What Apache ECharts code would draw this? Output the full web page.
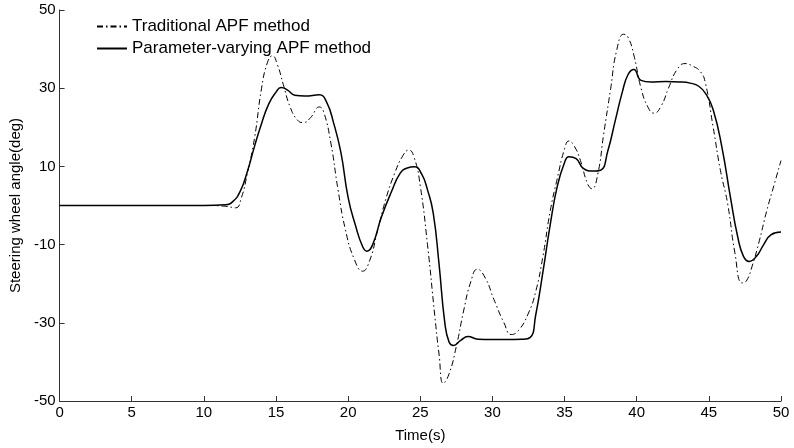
<!DOCTYPE html>
<html>
<head>
<meta charset="utf-8">
<script src="https://cdn.jsdelivr.net/npm/echarts@6/dist/echarts.min.js"></script>
<style>
  html, body { margin: 0; padding: 0; background: #fff; }
  #chart { width: 794px; height: 448px; }
</style>
</head>
<body>
<div id="chart"></div>
<script>
// values (time in s, angle in deg)
const tradTime = [0, 5, 10, 11.5, 12.2, 12.6, 13, 13.5, 14, 14.4, 14.75, 15.1, 15.5, 16, 16.5, 16.9, 17.4, 18, 18.3, 18.8, 19.3, 19.8, 20.4, 21, 21.5, 22, 22.6, 23.2, 23.8, 24.2, 24.6, 25, 25.5, 26, 26.3, 26.6, 27, 27.5, 28, 28.5, 28.95, 29.5, 30.1, 30.8, 31.3, 31.8, 32.5, 33, 33.5, 34, 34.5, 35, 35.3, 35.7, 36.1, 36.6, 36.9, 37.3, 37.7, 38.2, 38.6, 39.1, 39.4, 39.8, 40.3, 40.8, 41.2, 41.7, 42.2, 42.8, 43.35, 43.9, 44.4, 44.75, 45.3, 45.8, 46.3, 46.8, 47.3, 47.6, 48, 48.5, 49, 49.5, 50];
const tradAngle = [0, 0, 0, -0.2, -0.6, 2, 8, 17, 30, 36.5, 38.3, 36, 31, 25, 21.8, 21.2, 22.5, 25.2, 24, 16, 4, -6, -13.5, -16.8, -14, -7, 1.5, 8, 12.8, 14.2, 12, 5, -10, -28, -38, -45.5, -43, -36, -27, -19.5, -16.3, -18.5, -24, -30, -33, -32, -27.5, -22, -13, -1.5, 7, 14.5, 16.5, 15, 11.5, 5.5, 4.3, 8, 18, 30, 39.5, 43.8, 43, 38.5, 30, 25, 23.6, 25.5, 30, 34.8, 36.3, 35.6, 34.3, 31.5, 20, 9, 0.5, -12, -19.8, -19.3, -15.5, -9, -1.5, 5, 11.5];

const paramTime = [0, 5, 10, 11.5, 12, 12.5, 13, 13.5, 14, 14.5, 15, 15.35, 15.8, 16.3, 17, 18, 18.5, 19, 19.5, 20, 20.5, 21, 21.3, 21.7, 22.3, 23, 23.6, 24.1, 24.6, 25.1, 25.5, 25.9, 26.3, 26.7, 27, 27.3, 27.8, 28.3, 29, 30, 31, 32, 32.6, 33, 33.5, 34, 34.5, 35, 35.3, 35.8, 36.3, 37, 37.5, 38, 38.5, 39, 39.4, 39.8, 40.3, 41, 42, 43, 43.7, 44.3, 44.8, 45.3, 45.9, 46.5, 47, 47.4, 47.8, 48.3, 48.8, 49.3, 50];
const paramAngle = [0, 0, 0, 0.2, 1, 3.5, 8.5, 15, 21, 26, 29, 30.2, 29.5, 28.2, 28, 28.3, 26.5, 21, 13.5, 2, -5, -10.5, -11.7, -10, -3, 3.5, 8.2, 9.6, 9.9, 8, 4, -2, -15, -30, -35, -35.8, -34.5, -33.5, -34.2, -34.3, -34.3, -34.2, -33.8, -28, -17, -5, 5, 11, 12.5, 12, 9.5, 8.8, 9, 14, 21.5, 29, 33.5, 34.8, 32, 31.6, 31.7, 31.6, 31.3, 30.5, 28.5, 24.5, 15, 2, -8, -13, -14.3, -13, -10, -7.5, -6.8];

const xTicks = [0, 5, 10, 15, 20, 25, 30, 35, 40, 45, 50];
const yTicks = [-50, -30, -10, 10, 30, 50];

const seriesNames = ['Traditional APF method', 'Parameter-varying APF method'];

const chart = echarts.init(document.getElementById('chart'));

const pair = (xs, ys) => xs.map((x, i) => [x, ys[i]]);
const font = '"Liberation Sans", Arial, sans-serif';

const option = {
    animation: false,
    backgroundColor: '#fff',
    textStyle: { fontFamily: font },
    grid: { left: 58, right: 13, top: 10, bottom: 44 },
    legend: {
        orient: 'vertical',
        left: 91,
        top: 13,
        itemWidth: 30,
        itemHeight: 14,
        itemGap: 5,
        data: seriesNames,
        itemStyle: { opacity: 0 },
        textStyle: { fontSize: 17, color: '#000', fontFamily: font }
    },
    xAxis: {
        type: 'value',
        min: xTicks[0],
        max: xTicks[xTicks.length - 1],
        interval: 5,
        name: 'Time(s)',
        nameLocation: 'middle',
        nameGap: 27,
        nameTextStyle: { fontSize: 15, color: '#000' },
        axisLine: { onZero: false, lineStyle: { color: '#333', width: 1 } },
        axisTick: { inside: true, length: 5, lineStyle: { color: '#333' } },
        axisLabel: { fontSize: 15, color: '#000', margin: 4 },
        splitLine: { show: false }
    },
    yAxis: {
        type: 'value',
        min: yTicks[0],
        max: yTicks[yTicks.length - 1],
        interval: 20,
        name: 'Steering wheel angle(deg)',
        nameLocation: 'middle',
        nameGap: 31,
        nameTextStyle: { fontSize: 15, color: '#000' },
        axisLine: { show: true, onZero: false, lineStyle: { color: '#333', width: 1 } },
        axisTick: { show: true, inside: true, length: 5, lineStyle: { color: '#333' } },
        axisLabel: { fontSize: 15, color: '#000', margin: 4 },
        splitLine: { show: false }
    },
    series: [
        {
            name: seriesNames[0],
            type: 'line',
            symbol: 'none',
            smooth: 0.5,
            data: pair(tradTime, tradAngle),
            lineStyle: { color: '#000', width: 1, type: [6, 3, 1.5, 3] },
            itemStyle: { color: '#000' }
        },
        {
            name: seriesNames[1],
            type: 'line',
            symbol: 'none',
            smooth: 0.5,
            data: pair(paramTime, paramAngle),
            lineStyle: { color: '#000', width: 1.5 },
            itemStyle: { color: '#000' }
        }
    ]
};

chart.setOption(option);
</script>
</body>
</html>
